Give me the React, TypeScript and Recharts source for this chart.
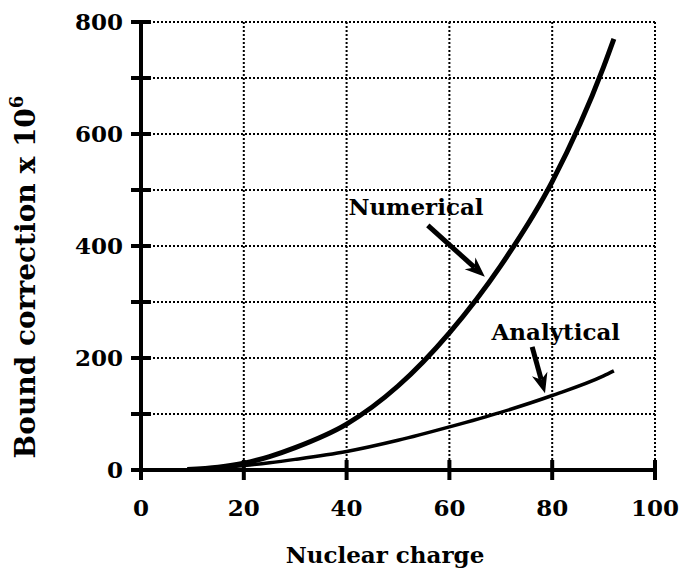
import React from 'react';
import {
  LineChart,
  Line,
  XAxis,
  YAxis,
  CartesianGrid,
  ReferenceLine,
  ReferenceDot,
  Label,
} from 'recharts';

// nuclear charge Z, bound correction (x 10^6)
const charges = [9, 15, 20, 25, 30, 40, 50, 60, 70, 80, 90, 92];
const numerical = [1, 5, 12, 24, 40, 82, 150, 245, 365, 515, 720, 770];
const analytical = [1, 4, 8, 13, 19, 33, 53, 77, 103, 133, 168, 177];

const xTicks = [0, 20, 40, 60, 80, 100];
const yTicks = [0, 100, 200, 300, 400, 500, 600, 700, 800];
const yLabelled = [0, 200, 400, 600, 800];

const FONT = 'DejaVu Serif';

const data = charges.map((z, i) => ({ z, numerical: numerical[i], analytical: analytical[i] }));

const BottomTick = (props: any) => {
  const { x, y, payload } = props;
  return (
    <g>
      <line x1={x} x2={x} y1={y - 10} y2={y + 10} stroke="#000" strokeWidth={4} />
      <text x={x} y={y + 46} textAnchor="middle" fontFamily={FONT} fontWeight="bold" fontSize={23} fill="#000">
        {payload.value}
      </text>
    </g>
  );
};

const TopTick = (props: any) => {
  const { x, y } = props;
  return <line x1={x} x2={x} y1={y - 10} y2={y + 10} stroke="#000" strokeWidth={4} />;
};

const LeftTick = (props: any) => {
  const { x, y, payload } = props;
  return (
    <g>
      <line x1={x - 10} x2={x + 10} y1={y} y2={y} stroke="#000" strokeWidth={4} />
      {yLabelled.includes(payload.value) && (
        <text x={x - 18} y={y} dy="0.36em" textAnchor="end" fontFamily={FONT} fontWeight="bold" fontSize={23} fill="#000">
          {payload.value}
        </text>
      )}
    </g>
  );
};

const RightTick = (props: any) => {
  const { x, y } = props;
  return <line x1={x - 10} x2={x + 10} y1={y} y2={y} stroke="#000" strokeWidth={4} />;
};

// line with a notched arrow head at the end
const Arrow = (props: any) => {
  const { x1, y1, x2, y2 } = props;
  const dx = x2 - x1;
  const dy = y2 - y1;
  const len = Math.sqrt(dx * dx + dy * dy);
  const ux = dx / len;
  const uy = dy / len;
  const hl = 20;
  const hw = 8;
  const bx = x2 - ux * hl;
  const by = y2 - uy * hl;
  const nx = x2 - ux * hl * 0.7;
  const ny = y2 - uy * hl * 0.7;
  const head = [
    `${x2},${y2}`,
    `${bx - uy * hw},${by + ux * hw}`,
    `${nx},${ny}`,
    `${bx + uy * hw},${by - ux * hw}`,
  ].join(' ');
  return (
    <g>
      <line x1={x1} y1={y1} x2={nx} y2={ny} stroke="#000" strokeWidth={5} />
      <polygon points={head} fill="#000" />
    </g>
  );
};

const note = (text: string) => (props: any) => (
  <text x={props.cx} y={props.cy} textAnchor="middle" fontFamily={FONT} fontWeight="bold" fontSize={23} fill="#000">
    {text}
  </text>
);

const YTitle = (props: any) => {
  const { viewBox } = props;
  const cx = viewBox.x + 35;
  const cy = viewBox.y + viewBox.height / 2 + 31;
  return (
    <text
      x={cx}
      y={cy}
      transform={`rotate(-90 ${cx} ${cy})`}
      textAnchor="middle"
      fontFamily={FONT}
      fontWeight="bold"
      fontSize={28}
      fill="#000"
    >
      Bound correction x 10
      <tspan fontSize={18} dy={-12}>6</tspan>
    </text>
  );
};

const XTitle = (props: any) => {
  const { viewBox } = props;
  return (
    <text
      x={viewBox.x + viewBox.width / 2 - 13}
      y={viewBox.y + 93}
      textAnchor="middle"
      fontFamily={FONT}
      fontWeight="bold"
      fontSize={23}
      fill="#000"
    >
      Nuclear charge
    </text>
  );
};

export default function App() {
  return (
    <div style={{ position: 'absolute', left: 0, top: 0, background: '#fff' }}>
      <LineChart width={679} height={573} data={data} margin={{ top: 22, right: 24, bottom: 0, left: 0 }}>
        <CartesianGrid stroke="#000" strokeWidth={2} strokeDasharray="2 2" />
        <XAxis
          dataKey="z"
          type="number"
          domain={[0, 100]}
          ticks={xTicks}
          interval={0}
          height={103}
          tickSize={0}
          tickMargin={0}
          tick={BottomTick}
          axisLine={{ stroke: '#000', strokeWidth: 4 }}
          tickLine={false}
        >
          <Label content={XTitle} />
        </XAxis>
        <XAxis
          xAxisId="top"
          orientation="top"
          type="number"
          domain={[0, 100]}
          ticks={xTicks}
          interval={0}
          height={0}
          tickSize={0}
          tickMargin={0}
          tick={TopTick}
          axisLine={{ stroke: '#000', strokeWidth: 4 }}
          tickLine={false}
        />
        <YAxis
          type="number"
          domain={[0, 800]}
          ticks={yTicks}
          interval={0}
          width={141}
          tickSize={0}
          tickMargin={0}
          tick={LeftTick}
          axisLine={{ stroke: '#000', strokeWidth: 4 }}
          tickLine={false}
        >
          <Label content={YTitle} />
        </YAxis>
        <YAxis
          yAxisId="right"
          orientation="right"
          type="number"
          domain={[0, 800]}
          ticks={yTicks}
          interval={0}
          width={0}
          tickSize={0}
          tickMargin={0}
          tick={RightTick}
          axisLine={{ stroke: '#000', strokeWidth: 4 }}
          tickLine={false}
        />
        <Line
          dataKey="analytical"
          type="monotone"
          stroke="#000"
          strokeWidth={3.5}
          dot={false}
          isAnimationActive={false}
        />
        <Line
          dataKey="numerical"
          type="monotone"
          stroke="#000"
          strokeWidth={5}
          dot={false}
          isAnimationActive={false}
        />
        <ReferenceLine segment={[{ x: 55.8, y: 437 }, { x: 66.9, y: 345 }]} shape={Arrow} ifOverflow="visible" />
        <ReferenceLine segment={[{ x: 76.1, y: 220 }, { x: 78.6, y: 137 }]} shape={Arrow} ifOverflow="visible" />
        <ReferenceDot x={53.5} y={455} r={0} shape={note('Numerical')} ifOverflow="visible" />
        <ReferenceDot x={80.7} y={232} r={0} shape={note('Analytical')} ifOverflow="visible" />
      </LineChart>
    </div>
  );
}
